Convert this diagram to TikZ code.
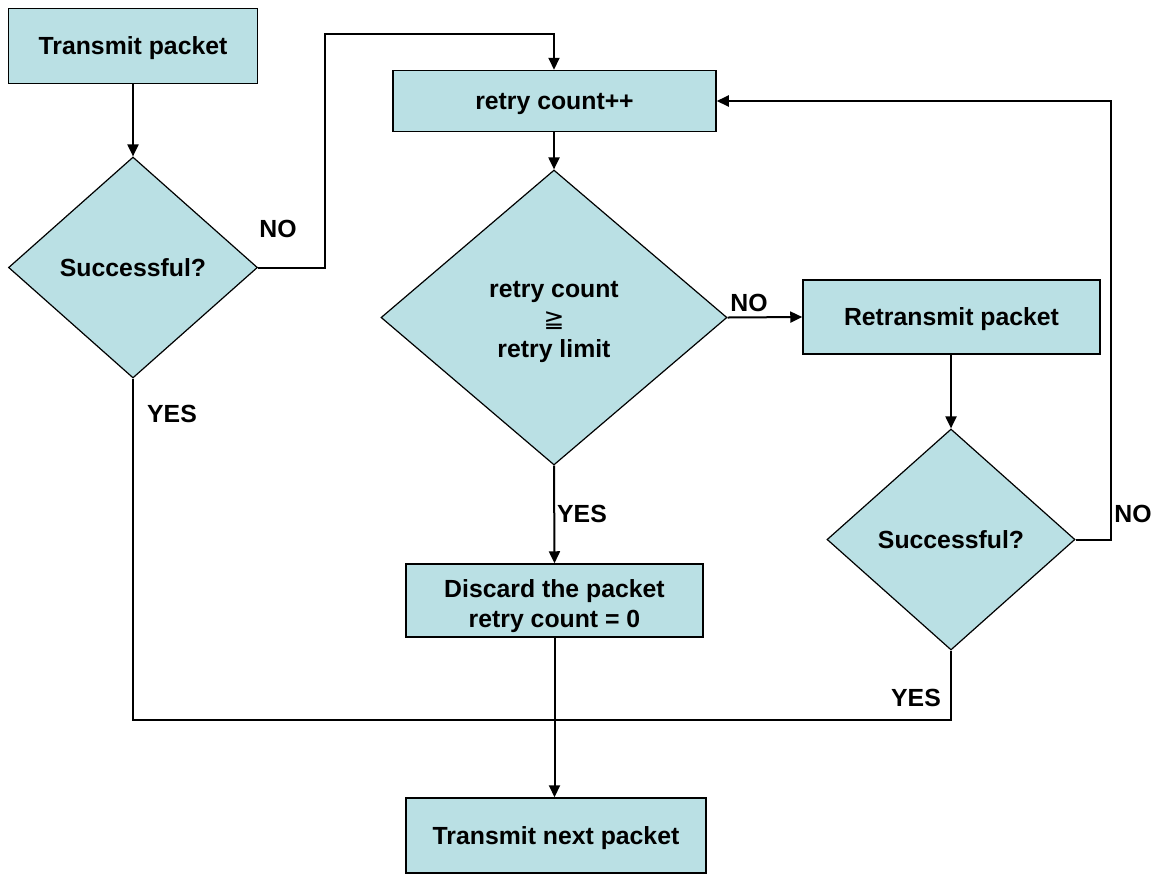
\documentclass[tikz,border=0pt]{standalone}
\usepackage{fontspec}
\setmainfont{Liberation Sans}
\newfontfamily\symfont{DejaVu Sans}
\usetikzlibrary{shapes.geometric,arrows.meta}
\definecolor{boxfill}{RGB}{186,224,228}
% lower a line of text without changing the size of its box
\newcommand\lowered[2]{\raisebox{-#1}[\height][\depth]{#2}}
\begin{document}
\begin{tikzpicture}[x=0.5pt,y=-0.5pt,
  font=\fontsize{12.4}{15}\selectfont\bfseries,
  procbox/.style={draw=black,line width=0.75pt,fill=boxfill,rectangle,inner sep=0pt,align=center},
  decision/.style={draw=black,line width=0.6pt,fill=boxfill,diamond,inner sep=0pt,align=center},
  oneline/.style={text height=0.86em,text depth=0pt},
  flow/.style={line width=1pt,-{Triangle[length=6pt,width=5.5pt]}},
  plain/.style={line width=1pt},
  lbl/.style={inner sep=0pt}]
\useasboundingbox (0,0) rectangle (1161,874);

% process boxes
\node[procbox,oneline,minimum width=124.5pt,minimum height=37.5pt] (tx) at (133,46) {Transmit packet};
\node[procbox,oneline,minimum width=161.5pt,minimum height=30.5pt] (inc) at (554.5,101) {retry count++};
\node[procbox,oneline,minimum width=148.5pt,minimum height=37pt] (retx) at (951.5,317) {Retransmit packet};
\node[procbox,minimum width=148.5pt,minimum height=36.5pt] (disc) at (554.5,600.5)
  {\lowered{2.6pt}{Discard the packet}\\\lowered{2.6pt}{retry count = 0}};
\node[procbox,oneline,minimum width=150pt,minimum height=37.5pt] (next) at (556,835.5) {Transmit next packet};

% decisions
\node[decision,oneline,minimum width=124.5pt,minimum height=110.5pt] (ok1) at (133,267.5) {Successful?};
\node[decision,minimum width=173pt,minimum height=147.5pt] (lim) at (554,317.5)
  {\lowered{2.2pt}{retry count}\\\lowered{2.2pt}{\symfont\mdseries ≧}\\\lowered{2.2pt}{retry limit}};
\node[decision,oneline,minimum width=124pt,minimum height=110.5pt] (ok2) at (951,539.5) {Successful?};

% junction points of the routed connectors
\coordinate (j1) at (325,267.5);
\coordinate (j2) at (325,34);
\coordinate (j3) at (1111,539.5);
\coordinate (j4) at (1111,101);
\coordinate (bl) at (133,720);
\coordinate (br) at (951,720);

% connectors
\draw[flow] (tx.south) -- (ok1.north);
\draw[flow] (ok1.east) -- (j1) -- (j2) -| (lim.north |- inc.north);
\draw[flow] (lim.north |- inc.south) -- (lim.north);
\draw[flow] (lim.east) -- (retx.west);
\draw[flow] (ok2.north |- retx.south) -- (ok2.north);
\draw[flow] (ok2.east) -- (j3) -- (j4) -- (inc.east);
\draw[flow] (lim.south) -- (disc.north);
\draw[flow] (disc.south) -- (disc.south |- next.north);
\draw[plain] (ok1.south) -- (bl) -- (br) -- (ok2.south);

% branch labels
\node[lbl] (no1) at (278,229) {NO};
\node[lbl] (no2) at (749,303) {NO};
\node[lbl] (no3) at (1133,514) {NO};
\node[lbl] (yes1) at (172,414) {YES};
\node[lbl] (yes2) at (582,514) {YES};
\node[lbl] (yes3) at (916,698) {YES};
\end{tikzpicture}
\end{document}
